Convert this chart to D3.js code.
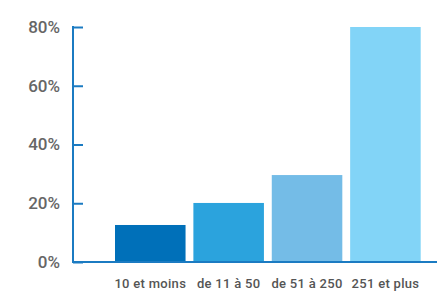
<!DOCTYPE html>
<html>
<head>
<meta charset="utf-8">
<script src="https://cdn.jsdelivr.net/npm/d3@7"></script>
<style>
  body { margin: 0; background: #fff; }
  text { font-family: Roboto, "DejaVu Sans", sans-serif; }
</style>
</head>
<body>
<script>
// values
const categories = ["10 et moins", "de 11 à 50", "de 51 à 250", "251 et plus"];
const values = [12.6, 20.1, 29.6, 80];
const colors = ["#0070b9", "#2ba3dd", "#74bce7", "#82d4f7"];
const yTicks = [0, 20, 40, 60, 80];

const width = 437, height = 292;

const svg = d3.select("body")
  .append("svg")
  .attr("width", width)
  .attr("height", height);

const x = d3.scaleBand()
  .domain(categories)
  .range([115, 420.7])
  .paddingInner(0.1)
  .paddingOuter(0);

const y = d3.scaleLinear()
  .domain([0, 80])
  .range([262, 27]);

svg.selectAll("rect.bar")
  .data(values)
  .enter().append("rect")
  .attr("class", "bar")
  .attr("x", (d, i) => x(categories[i]))
  .attr("y", d => y(d))
  .attr("width", x.bandwidth())
  .attr("height", d => y(0) - y(d))
  .attr("fill", (d, i) => colors[i]);

// y axis: blue line with inner ticks
const yAxis = d3.axisRight(y)
  .tickValues(yTicks)
  .tickSize(10)
  .tickFormat("");
const gy = svg.append("g")
  .attr("transform", "translate(73,0)")
  .call(yAxis);
gy.select(".domain").remove();
gy.selectAll(".tick line")
  .attr("stroke", "#1b7bc2")
  .attr("stroke-width", 2);
svg.append("line")
  .attr("x1", 73).attr("x2", 73)
  .attr("y1", y(80) - 1).attr("y2", y(0) + 1)
  .attr("stroke", "#1b7bc2")
  .attr("stroke-width", 2);

svg.selectAll("text.ylab")
  .data(yTicks)
  .enter().append("text")
  .attr("class", "ylab")
  .attr("x", 60)
  .attr("y", d => y(d))
  .attr("dy", "0.35em")
  .attr("text-anchor", "end")
  .attr("font-size", 17)
  .attr("font-weight", 500)
  .attr("fill", "#666")
  .text(d => d + "%");

// baseline
svg.append("line")
  .attr("x1", 72).attr("x2", width)
  .attr("y1", y(0)).attr("y2", y(0))
  .attr("stroke", "#1b7bc2")
  .attr("stroke-width", 2);

svg.selectAll("text.xlab")
  .data(categories)
  .enter().append("text")
  .attr("class", "xlab")
  .attr("x", d => x(d) + x.bandwidth() / 2)
  .attr("y", 283)
  .attr("dy", "0.35em")
  .attr("text-anchor", "middle")
  .attr("font-size", 13)
  .attr("letter-spacing", 0.3)
  .attr("font-weight", 500)
  .attr("fill", "#555")
  .text(d => d);
</script>
</body>
</html>
